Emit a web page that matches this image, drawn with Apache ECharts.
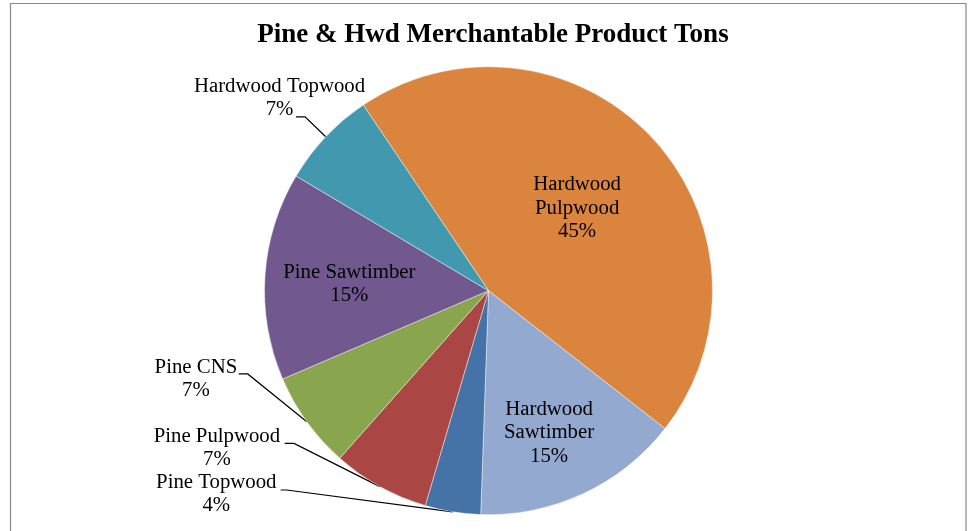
<!DOCTYPE html>
<html>
<head>
<meta charset="utf-8">
<script src="https://cdn.jsdelivr.net/npm/echarts@6/dist/echarts.min.js"></script>
<style>
html,body{margin:0;padding:0;background:#fff;}
#chart{width:972px;height:531px;}
</style>
</head>
<body>
<div id="chart"></div>
<script>
// ---- data ----
var categories = ['Hardwood Pulpwood', 'Hardwood Sawtimber', 'Pine Topwood', 'Pine Pulpwood', 'Pine CNS', 'Pine Sawtimber', 'Hardwood Topwood'];
var shares = [45, 15, 4, 7, 7, 15, 7];
var colors = ['#DB843D', '#93A9CF', '#4572A7', '#AA4643', '#89A54E', '#71588F', '#4198AF'];
var titleText = 'Pine & Hwd Merchantable Product Tons';

// ---- label styling / placement (offsets relative to library-computed anchors) ----
var labelPlacement = [
  { outside: false, wrap: true,  shift: [4.5, -4] },
  { outside: false, wrap: true,  shift: [12, 38] },
  { outside: true,  wrap: false, text: [-236.4, -17.6], elbow: [-166, -21.8], end: [-172, -21.8] },
  { outside: true,  wrap: false, text: [-163, -38.4],   elbow: [-85.9, -43.2], end: [-95.2, -43.2] },
  { outside: true,  wrap: false, text: [-110.9, -42.8], elbow: [-59.1, -47.8], end: [-68.1, -47.8] },
  { outside: false, wrap: false, shift: [-24.4, 1.2] },
  { outside: true,  wrap: false, text: [-46.2, -38.6],  elbow: [-20.7, -19.9], end: [-29.7, -19.9] }
];

var FONT = '"Liberation Serif", "Times New Roman", serif';

var seriesData = categories.map(function (name, i) {
  var cfg = labelPlacement[i];
  return {
    name: name,
    value: shares[i],
    itemStyle: { color: colors[i] },
    label: { position: cfg.outside ? 'outside' : 'inside' },
    labelLine: { show: cfg.outside }
  };
});

var chart = echarts.init(document.getElementById('chart'), null, { renderer: 'canvas' });
chart.setOption({
  animation: false,
  backgroundColor: '#ffffff',
  title: {
    text: titleText,
    left: 488,
    top: 17,
    textAlign: 'center',
    textStyle: { fontFamily: FONT, fontSize: 27, fontWeight: 'bold', color: '#000' }
  },
  graphic: [{
    type: 'rect',
    silent: true,
    shape: { x: 10.5, y: 3.5, width: 955.5, height: 600 },
    style: { fill: 'none', stroke: '#8a8a8a', lineWidth: 1.2 }
  }],
  series: [{
    type: 'pie',
    center: [488.5, 290.7],
    radius: 224,
    startAngle: 124,
    clockwise: true,
    avoidLabelOverlap: false,
    percentPrecision: 0,
    itemStyle: { borderColor: 'rgba(255,255,255,0.55)', borderWidth: 0.8 },
    emphasis: { disabled: true },
    label: {
      show: true,
      align: 'center',
      formatter: function (p) {
        var cfg = labelPlacement[p.dataIndex];
        var lines = cfg.wrap ? p.name.split(' ') : [p.name];
        lines.push(Math.round(p.percent) + '%');
        return lines.map(function (l) { return '{n|' + l + '}'; }).join('\n');
      },
      rich: {
        n: { fontFamily: FONT, fontSize: 20.8, lineHeight: 23.5, color: '#000', align: 'center' }
      }
    },
    labelLine: {
      show: true,
      length: 20,
      length2: 10,
      lineStyle: { color: '#000', width: 1.2 }
    },
    labelLayout: function (params) {
      var cfg = labelPlacement[params.dataIndex];
      if (cfg.outside && params.labelLinePoints) {
        var p0 = params.labelLinePoints[0];
        return {
          x: p0[0] + cfg.text[0],
          y: p0[1] + cfg.text[1],
          align: 'center',
          verticalAlign: 'middle',
          labelLinePoints: [
            [p0[0], p0[1]],
            [p0[0] + cfg.elbow[0], p0[1] + cfg.elbow[1]],
            [p0[0] + cfg.end[0], p0[1] + cfg.end[1]]
          ]
        };
      }
      var r = params.labelRect;
      return {
        x: r.x + r.width / 2 + cfg.shift[0],
        y: r.y + r.height / 2 + cfg.shift[1],
        align: 'center',
        verticalAlign: 'middle'
      };
    },
    data: seriesData
  }]
});
</script>
</body>
</html>
